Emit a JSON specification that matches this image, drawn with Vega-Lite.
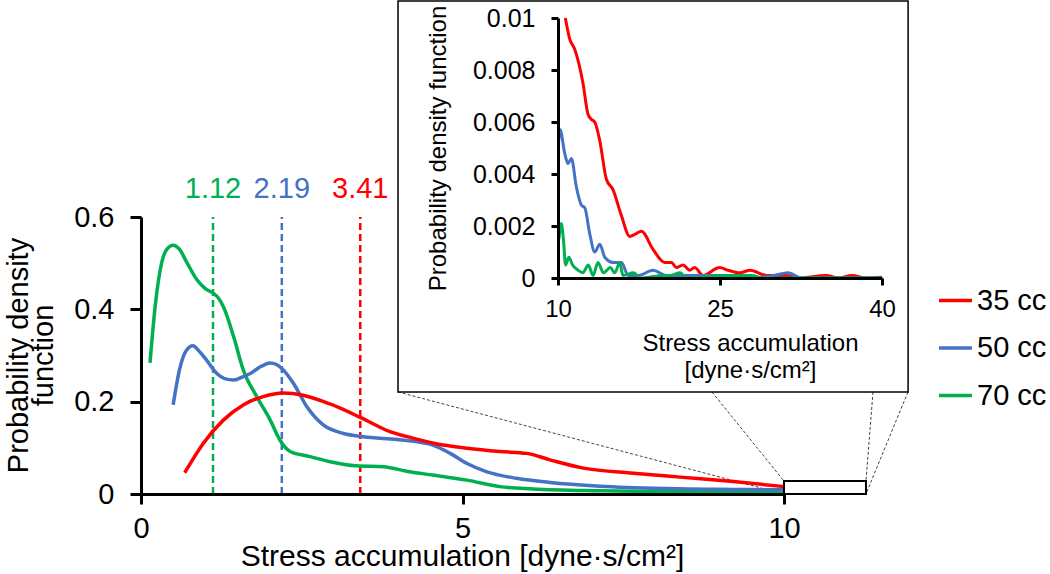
{
  "$schema": "https://vega.github.io/schema/vega-lite/v6.json",
  "width": 1050,
  "height": 574,
  "autosize": "none",
  "padding": 0,
  "background": "white",
  "config": {
    "view": {"stroke": null},
    "font": "Liberation Sans",
    "axis": {
      "labelFont": "Liberation Sans",
      "titleFont": "Liberation Sans",
      "labelColor": "black",
      "titleColor": "black",
      "domainColor": "black",
      "tickColor": "black",
      "domainWidth": 3,
      "tickWidth": 3,
      "grid": false,
      "titleFontWeight": "normal",
      "labelFlush": false,
      "labelOverlap": false
    },
    "legend": {"labelFont": "Liberation Sans"}
  },
  "datasets": {
    "main": [
      {"series": "70 cc", "x": 0.14, "y": 0.284},
      {"series": "70 cc", "x": 0.22, "y": 0.406},
      {"series": "70 cc", "x": 0.32, "y": 0.5},
      {"series": "70 cc", "x": 0.4, "y": 0.53},
      {"series": "70 cc", "x": 0.5, "y": 0.539},
      {"series": "70 cc", "x": 0.6, "y": 0.53},
      {"series": "70 cc", "x": 0.7, "y": 0.505},
      {"series": "70 cc", "x": 0.87, "y": 0.464},
      {"series": "70 cc", "x": 1.0, "y": 0.445},
      {"series": "70 cc", "x": 1.12, "y": 0.435},
      {"series": "70 cc", "x": 1.2, "y": 0.425},
      {"series": "70 cc", "x": 1.28, "y": 0.406},
      {"series": "70 cc", "x": 1.44, "y": 0.341},
      {"series": "70 cc", "x": 1.59, "y": 0.269},
      {"series": "70 cc", "x": 1.8, "y": 0.211},
      {"series": "70 cc", "x": 2.01, "y": 0.16},
      {"series": "70 cc", "x": 2.16, "y": 0.117},
      {"series": "70 cc", "x": 2.32, "y": 0.092},
      {"series": "70 cc", "x": 2.63, "y": 0.081},
      {"series": "70 cc", "x": 2.94, "y": 0.07},
      {"series": "70 cc", "x": 3.35, "y": 0.061},
      {"series": "70 cc", "x": 3.77, "y": 0.059},
      {"series": "70 cc", "x": 4.18, "y": 0.048},
      {"series": "70 cc", "x": 4.54, "y": 0.041},
      {"series": "70 cc", "x": 5.07, "y": 0.03},
      {"series": "70 cc", "x": 5.58, "y": 0.016},
      {"series": "70 cc", "x": 6.1, "y": 0.011},
      {"series": "70 cc", "x": 7.14, "y": 0.007},
      {"series": "70 cc", "x": 8.18, "y": 0.005},
      {"series": "70 cc", "x": 9.21, "y": 0.004},
      {"series": "70 cc", "x": 10.0, "y": 0.002},
      {"series": "50 cc", "x": 0.5, "y": 0.193},
      {"series": "50 cc", "x": 0.6, "y": 0.27},
      {"series": "50 cc", "x": 0.7, "y": 0.31},
      {"series": "50 cc", "x": 0.81, "y": 0.321},
      {"series": "50 cc", "x": 0.9, "y": 0.31},
      {"series": "50 cc", "x": 1.02, "y": 0.29},
      {"series": "50 cc", "x": 1.18, "y": 0.261},
      {"series": "50 cc", "x": 1.3, "y": 0.25},
      {"series": "50 cc", "x": 1.44, "y": 0.247},
      {"series": "50 cc", "x": 1.6, "y": 0.255},
      {"series": "50 cc", "x": 1.7, "y": 0.261},
      {"series": "50 cc", "x": 1.85, "y": 0.275},
      {"series": "50 cc", "x": 2.01, "y": 0.284},
      {"series": "50 cc", "x": 2.1, "y": 0.281},
      {"series": "50 cc", "x": 2.19, "y": 0.272},
      {"series": "50 cc", "x": 2.37, "y": 0.24},
      {"series": "50 cc", "x": 2.58, "y": 0.189},
      {"series": "50 cc", "x": 2.84, "y": 0.149},
      {"series": "50 cc", "x": 3.15, "y": 0.131},
      {"series": "50 cc", "x": 3.46, "y": 0.124},
      {"series": "50 cc", "x": 3.98, "y": 0.118},
      {"series": "50 cc", "x": 4.3, "y": 0.113},
      {"series": "50 cc", "x": 4.54, "y": 0.106},
      {"series": "50 cc", "x": 4.81, "y": 0.088},
      {"series": "50 cc", "x": 5.07, "y": 0.066},
      {"series": "50 cc", "x": 5.38, "y": 0.048},
      {"series": "50 cc", "x": 5.84, "y": 0.034},
      {"series": "50 cc", "x": 6.36, "y": 0.025},
      {"series": "50 cc", "x": 7.14, "y": 0.017},
      {"series": "50 cc", "x": 8.18, "y": 0.012},
      {"series": "50 cc", "x": 9.21, "y": 0.01},
      {"series": "50 cc", "x": 10.0, "y": 0.009},
      {"series": "35 cc", "x": 0.68, "y": 0.046},
      {"series": "35 cc", "x": 0.97, "y": 0.11},
      {"series": "35 cc", "x": 1.28, "y": 0.16},
      {"series": "35 cc", "x": 1.59, "y": 0.193},
      {"series": "35 cc", "x": 1.9, "y": 0.211},
      {"series": "35 cc", "x": 2.21, "y": 0.219},
      {"series": "35 cc", "x": 2.52, "y": 0.214},
      {"series": "35 cc", "x": 2.94, "y": 0.195},
      {"series": "35 cc", "x": 3.41, "y": 0.166},
      {"series": "35 cc", "x": 3.87, "y": 0.135},
      {"series": "35 cc", "x": 4.23, "y": 0.121},
      {"series": "35 cc", "x": 4.55, "y": 0.11},
      {"series": "35 cc", "x": 5.07, "y": 0.099},
      {"series": "35 cc", "x": 5.58, "y": 0.092},
      {"series": "35 cc", "x": 6.0, "y": 0.088},
      {"series": "35 cc", "x": 6.36, "y": 0.074},
      {"series": "35 cc", "x": 6.88, "y": 0.056},
      {"series": "35 cc", "x": 7.66, "y": 0.045},
      {"series": "35 cc", "x": 8.43, "y": 0.036},
      {"series": "35 cc", "x": 9.21, "y": 0.027},
      {"series": "35 cc", "x": 10.0, "y": 0.016}
    ],
    "inset": [
      {"series": "35 cc", "x": 10.68, "y": 0.01},
      {"series": "35 cc", "x": 11.08, "y": 0.0092},
      {"series": "35 cc", "x": 11.55, "y": 0.0088},
      {"series": "35 cc", "x": 12.31, "y": 0.0075},
      {"series": "35 cc", "x": 12.78, "y": 0.0063},
      {"series": "35 cc", "x": 13.1, "y": 0.0061},
      {"series": "35 cc", "x": 13.4, "y": 0.006},
      {"series": "35 cc", "x": 13.86, "y": 0.0053},
      {"series": "35 cc", "x": 14.48, "y": 0.0038},
      {"series": "35 cc", "x": 15.09, "y": 0.0034},
      {"series": "35 cc", "x": 15.87, "y": 0.0024},
      {"series": "35 cc", "x": 16.64, "y": 0.0016},
      {"series": "35 cc", "x": 17.2, "y": 0.0017},
      {"series": "35 cc", "x": 17.72, "y": 0.0018},
      {"series": "35 cc", "x": 18.8, "y": 0.0011},
      {"series": "35 cc", "x": 19.88, "y": 0.0006},
      {"series": "35 cc", "x": 20.5, "y": 0.0006},
      {"series": "35 cc", "x": 20.96, "y": 0.0004},
      {"series": "35 cc", "x": 21.57, "y": 0.0005},
      {"series": "35 cc", "x": 22.19, "y": 0.0003},
      {"series": "35 cc", "x": 22.65, "y": 0.0004},
      {"series": "35 cc", "x": 23.43, "y": 0.0001},
      {"series": "35 cc", "x": 24.97, "y": 0.0004},
      {"series": "35 cc", "x": 25.74, "y": 0.0003},
      {"series": "35 cc", "x": 26.82, "y": 0.0002},
      {"series": "35 cc", "x": 27.8, "y": 0.0003},
      {"series": "35 cc", "x": 29.3, "y": 0.0001},
      {"series": "35 cc", "x": 31.1, "y": 0.0001},
      {"series": "35 cc", "x": 32.3, "y": 0.0},
      {"series": "35 cc", "x": 34.8, "y": 0.0001},
      {"series": "35 cc", "x": 36.0, "y": 0.0},
      {"series": "35 cc", "x": 37.2, "y": 0.0001},
      {"series": "35 cc", "x": 38.5, "y": 0.0},
      {"series": "35 cc", "x": 40.0, "y": 0.00003},
      {"series": "50 cc", "x": 10.05, "y": 0.0052},
      {"series": "50 cc", "x": 10.2, "y": 0.0057},
      {"series": "50 cc", "x": 10.62, "y": 0.0048},
      {"series": "50 cc", "x": 10.93, "y": 0.0044},
      {"series": "50 cc", "x": 11.24, "y": 0.0046},
      {"series": "50 cc", "x": 11.7, "y": 0.0035},
      {"series": "50 cc", "x": 12.17, "y": 0.0028},
      {"series": "50 cc", "x": 12.48, "y": 0.0027},
      {"series": "50 cc", "x": 12.94, "y": 0.0017},
      {"series": "50 cc", "x": 13.4, "y": 0.001},
      {"series": "50 cc", "x": 13.87, "y": 0.0013},
      {"series": "50 cc", "x": 14.33, "y": 0.0008},
      {"series": "50 cc", "x": 15.1, "y": 0.0006},
      {"series": "50 cc", "x": 15.88, "y": 0.0006},
      {"series": "50 cc", "x": 16.5, "y": 0.0001},
      {"series": "50 cc", "x": 17.5, "y": 0.0001},
      {"series": "50 cc", "x": 18.8, "y": 0.0003},
      {"series": "50 cc", "x": 20.0, "y": 0.0001},
      {"series": "50 cc", "x": 22.0, "y": 0.0001},
      {"series": "50 cc", "x": 25.0, "y": 0.0001},
      {"series": "50 cc", "x": 28.0, "y": 0.0},
      {"series": "50 cc", "x": 30.0, "y": 0.0001},
      {"series": "50 cc", "x": 31.3, "y": 0.0002},
      {"series": "50 cc", "x": 32.5, "y": 0.0},
      {"series": "50 cc", "x": 40.0, "y": 0.0},
      {"series": "70 cc", "x": 10.09, "y": 0.0015},
      {"series": "70 cc", "x": 10.3, "y": 0.0021},
      {"series": "70 cc", "x": 10.5, "y": 0.0015},
      {"series": "70 cc", "x": 10.7, "y": 0.0005},
      {"series": "70 cc", "x": 11.0, "y": 0.0008},
      {"series": "70 cc", "x": 11.35, "y": 0.0005},
      {"series": "70 cc", "x": 11.85, "y": 0.0003},
      {"series": "70 cc", "x": 12.3, "y": 0.0002},
      {"series": "70 cc", "x": 12.8, "y": 0.0005},
      {"series": "70 cc", "x": 13.25, "y": 0.0001},
      {"series": "70 cc", "x": 13.7, "y": 0.0006},
      {"series": "70 cc", "x": 14.2, "y": 0.0002},
      {"series": "70 cc", "x": 14.85, "y": 0.0004},
      {"series": "70 cc", "x": 15.25, "y": 0.0002},
      {"series": "70 cc", "x": 15.73, "y": 0.0006},
      {"series": "70 cc", "x": 16.0, "y": 0.0001},
      {"series": "70 cc", "x": 17.0, "y": 0.0002},
      {"series": "70 cc", "x": 17.6, "y": 0.0},
      {"series": "70 cc", "x": 19.8, "y": 0.0001},
      {"series": "70 cc", "x": 20.4, "y": 0.0001},
      {"series": "70 cc", "x": 21.3, "y": 0.0002},
      {"series": "70 cc", "x": 21.9, "y": 0.0},
      {"series": "70 cc", "x": 25.5, "y": 0.0001},
      {"series": "70 cc", "x": 27.9, "y": 0.0001},
      {"series": "70 cc", "x": 29.0, "y": 0.0},
      {"series": "70 cc", "x": 40.0, "y": 0.0}
    ],
    "means": [
      {"series": "70 cc", "x": 1.12, "label": "1.12"},
      {"series": "50 cc", "x": 2.19, "label": "2.19"},
      {"series": "35 cc", "x": 3.41, "label": "3.41"}
    ],
    "frame": [{"x": 3.997, "x2": 11.93, "y": 0.221, "y2": 1.068}],
    "zoomrect": [{"x": 10, "x2": 11.275, "y": 0, "y2": 0.028}],
    "connectors": [
      {"x": 3.997, "y": 0.221, "x2": 10, "y2": 0},
      {"x": 8.88, "y": 0.221, "x2": 10, "y2": 0.028},
      {"x": 11.384, "y": 0.221, "x2": 11.275, "y2": 0.028},
      {"x": 11.928, "y": 0.221, "x2": 11.275, "y2": 0}
    ]
  },
  "layer": [
    {
      "layer": [
        {
          "data": {"name": "connectors"},
          "mark": {"type": "rule", "color": "#444444", "strokeWidth": 1, "strokeDash": [3, 2]},
          "encoding": {
            "x": {"field": "x", "type": "quantitative", "scale": {"domain": [0, 10], "range": [141, 784], "nice": false, "zero": false}},
            "y": {"field": "y", "type": "quantitative", "scale": {"domain": [0, 0.6], "range": [494, 217], "nice": false, "zero": false}},
            "x2": {"field": "x2"},
            "y2": {"field": "y2"}
          }
        },
        {
          "data": {"name": "frame"},
          "mark": {"type": "rect", "fill": "white", "stroke": "black", "strokeWidth": 1.5},
          "encoding": {
            "x": {"field": "x", "type": "quantitative", "scale": {"domain": [0, 10], "range": [141, 784], "nice": false, "zero": false}},
            "y": {"field": "y", "type": "quantitative", "scale": {"domain": [0, 0.6], "range": [494, 217], "nice": false, "zero": false}},
            "x2": {"field": "x2"},
            "y2": {"field": "y2"}
          }
        },
        {
          "data": {"name": "means"},
          "mark": {"type": "rule", "strokeWidth": 2.5, "strokeDash": [7, 4]},
          "encoding": {
            "x": {"field": "x", "type": "quantitative", "scale": {"domain": [0, 10], "range": [141, 784], "nice": false, "zero": false}},
            "y": {"datum": 0, "type": "quantitative", "scale": {"domain": [0, 0.6], "range": [494, 217], "nice": false, "zero": false}},
            "y2": {"datum": 0.6},
            "color": {"field": "series", "type": "nominal", "scale": {"domain": ["35 cc", "50 cc", "70 cc"], "range": ["#FF0000", "#4472C4", "#00B050"]}}
          }
        },
        {
          "data": {"name": "means"},
          "mark": {"type": "text", "fontSize": 29, "baseline": "alphabetic", "align": "center", "dy": -19},
          "encoding": {
            "x": {"field": "x", "type": "quantitative", "scale": {"domain": [0, 10], "range": [141, 784], "nice": false, "zero": false}},
            "y": {"datum": 0.6, "type": "quantitative", "scale": {"domain": [0, 0.6], "range": [494, 217], "nice": false, "zero": false}},
            "text": {"field": "label"},
            "color": {"field": "series", "type": "nominal", "scale": {"domain": ["35 cc", "50 cc", "70 cc"], "range": ["#FF0000", "#4472C4", "#00B050"]}}
          }
        },
        {
          "data": {"name": "main"},
          "mark": {"type": "line", "strokeWidth": 3.5, "interpolate": "monotone"},
          "encoding": {
            "x": {
              "field": "x", "type": "quantitative",
              "scale": {"domain": [0, 10], "range": [141, 784], "nice": false, "zero": false},
              "axis": {
                "orient": "bottom", "offset": -80, "values": [0, 5, 10], "format": "d", "zindex": 1,
                "title": "Stress accumulation [dyne·s/cm²]", "titleFontSize": 30,
                "titleBaseline": "alphabetic", "titleAlign": "center", "titleX": 462, "titleY": 71,
                "labelFontSize": 29, "tickSize": 10, "labelPadding": 10
              }
            },
            "y": {
              "field": "y", "type": "quantitative",
              "scale": {"domain": [0, 0.6], "range": [494, 217], "nice": false, "zero": false},
              "axis": {
                "orient": "left", "offset": -141, "values": [0, 0.2, 0.4, 0.6], "format": "~g", "zindex": 1,
                "title": ["Probability density", "function"], "titleFontSize": 29, "titleLineHeight": 25,
                "titleAngle": -90, "titleBaseline": "middle", "titleAlign": "center", "titleX": -123, "titleY": 355,
                "labelFontSize": 29, "tickSize": 11, "labelPadding": 16
              }
            },
            "color": {
              "field": "series", "type": "nominal",
              "scale": {"domain": ["35 cc", "50 cc", "70 cc"], "range": ["#FF0000", "#4472C4", "#00B050"]},
              "legend": {
                "orient": "none", "legendX": 937, "legendY": 282, "title": null,
                "symbolType": "stroke", "symbolSize": 1089, "symbolStrokeWidth": 3.5,
                "labelFontSize": 29, "labelColor": "black", "labelOffset": 3, "rowPadding": 13.5, "padding": 0
              }
            }
          }
        },
        {
          "data": {"name": "zoomrect"},
          "mark": {"type": "rect", "fill": "white", "stroke": "black", "strokeWidth": 2},
          "encoding": {
            "x": {"field": "x", "type": "quantitative", "scale": {"domain": [0, 10], "range": [141, 784], "nice": false, "zero": false}},
            "y": {"field": "y", "type": "quantitative", "scale": {"domain": [0, 0.6], "range": [494, 217], "nice": false, "zero": false}},
            "x2": {"field": "x2"},
            "y2": {"field": "y2"}
          }
        }
      ]
    },
    {
      "data": {"name": "inset"},
      "mark": {"type": "line", "strokeWidth": 3, "interpolate": "monotone"},
      "encoding": {
        "x": {
          "field": "x", "type": "quantitative",
          "scale": {"domain": [10, 40], "range": [558, 882], "nice": false, "zero": false},
          "axis": {
            "orient": "bottom", "offset": -296, "values": [10, 25, 40], "format": "d", "zindex": 2,
            "title": ["Stress accumulation", "[dyne·s/cm²]"], "titleFontSize": 24, "titleLineHeight": 27,
            "titleBaseline": "alphabetic", "titleAlign": "center", "titleX": 750, "titleY": 72,
            "labelFontSize": 24, "tickSize": 7, "labelPadding": 12
          }
        },
        "y": {
          "field": "y", "type": "quantitative",
          "scale": {"domain": [0, 0.01], "range": [278, 18], "nice": false, "zero": false},
          "axis": {
            "orient": "left", "offset": -558, "values": [0, 0.002, 0.004, 0.006, 0.008, 0.01], "format": "~g", "zindex": 2,
            "title": "Probability density function", "titleFontSize": 24,
            "titleAngle": -90, "titleBaseline": "middle", "titleAlign": "center", "titleX": -120, "titleY": 148,
            "labelFontSize": 25, "tickSize": 7, "labelPadding": 16
          }
        },
        "color": {
          "field": "series", "type": "nominal",
          "scale": {"domain": ["35 cc", "50 cc", "70 cc"], "range": ["#FF0000", "#4472C4", "#00B050"]}
        }
      }
    }
  ],
  "resolve": {"scale": {"x": "independent", "y": "independent"}, "axis": {"x": "independent", "y": "independent"}}
}
